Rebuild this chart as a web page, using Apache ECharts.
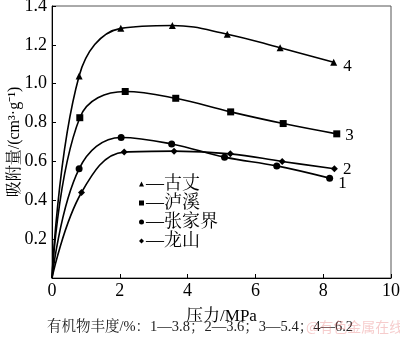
<!DOCTYPE html>
<html>
<head>
<meta charset="utf-8">
<script src="https://cdn.jsdelivr.net/npm/echarts@6/dist/echarts.min.js"></script>
<style>
  html, body { margin: 0; padding: 0; background: #fff; }
  #chart { width: 400px; height: 340px; }
</style>
</head>
<body>
<div id="chart"></div>
<script>
// Pressure (MPa) and adsorbed volume (cm3/g) for each shale sample
const guzhangP = [0, 0.80, 2.03, 3.55, 5.17, 6.73, 8.31];
const guzhangV = [0, 1.04, 1.285, 1.30, 1.255, 1.185, 1.11];
const luxiP = [0, 0.82, 2.16, 3.65, 5.27, 6.82, 8.40];
const luxiV = [0, 0.825, 0.96, 0.925, 0.855, 0.795, 0.742];
const zhangjiajieP = [0, 0.80, 2.04, 3.53, 5.09, 6.63, 8.19];
const zhangjiajieV = [0, 0.562, 0.723, 0.69, 0.622, 0.577, 0.514];
const longshanP = [0, 0.87, 2.13, 3.60, 5.26, 6.79, 8.33];
const longshanV = [0, 0.44, 0.648, 0.653, 0.639, 0.60, 0.562];

const seriesNames = ['古丈', '泸溪', '张家界', '龙山'];
const curveNumbers = ['4', '3', '1', '2'];
const xTicks = [0, 2, 4, 6, 8, 10];
const yTitle = '吸附量/(cm³·g⁻¹)';
const noteText = '有机物丰度/%：1—3.8；2—3.6；3—5.4；4—6.2';

const serif = '"Liberation Serif", "Times New Roman", "Noto Serif CJK SC", "Noto Sans CJK SC", serif';

function buildData(ps, vs, tag, offset) {
  return ps.map((p, i) => {
    const item = { value: [p, vs[i]] };
    if (i === 0) item.symbol = 'none';
    if (i === ps.length - 1) {
      item.label = {
        show: true, position: 'right', formatter: tag, offset: offset,
        fontFamily: serif, fontSize: 17, color: '#000'
      };
    }
    return item;
  });
}

const defs = [
  { name: seriesNames[0], p: guzhangP, v: guzhangV, symbol: 'triangle', size: 7, off: [1, 4] },
  { name: seriesNames[1], p: luxiP, v: luxiV, symbol: 'rect', size: 7, off: [0, 2] },
  { name: seriesNames[2], p: zhangjiajieP, v: zhangjiajieV, symbol: 'circle', size: 7, off: [0, 5] },
  { name: seriesNames[3], p: longshanP, v: longshanV, symbol: 'diamond', size: 7, off: [0, 1] }
];

const chart = echarts.init(document.getElementById('chart'), null, { renderer: 'canvas' });

chart.setOption({
  animation: false,
  backgroundColor: '#fff',
  grid: {
    left: 52, right: 9, top: 6, bottom: 62,
    containLabel: false, outerBoundsMode: 'none',
    show: true, borderColor: '#555', borderWidth: 1
  },
  legend: {
    orient: 'vertical',
    left: 134, top: 170,
    itemWidth: 5, itemHeight: 5, itemGap: 1,
    data: defs.map(d => ({ name: d.name, icon: d.symbol })),
    formatter: n => '—' + n,
    textStyle: { fontFamily: serif, fontSize: 18, color: '#000', padding: [0, 0, 0, -3] },
    inactiveColor: '#000'
  },
  xAxis: {
    type: 'value', min: 0, max: 10, interval: 2,
    name: '压力/MPa', nameLocation: 'middle', nameGap: 30,
    nameTextStyle: { fontFamily: serif, fontSize: 17, color: '#000' },
    axisLine: { lineStyle: { color: '#000', width: 1 } },
    axisTick: { inside: true, length: 4, lineStyle: { color: '#000' } },
    axisLabel: {
      fontFamily: serif, fontSize: 18, color: '#000', margin: 4,
      formatter: v => xTicks.includes(v) ? String(v) : ''
    },
    splitLine: { show: false }
  },
  yAxis: {
    type: 'value', min: 0, max: 1.4, interval: 0.2,
    axisLine: { show: true, lineStyle: { color: '#000', width: 1 } },
    axisTick: { inside: true, length: 4, lineStyle: { color: '#000' } },
    axisLabel: {
      fontFamily: serif, fontSize: 18, color: '#000', margin: 5,
      showMinLabel: false,
      formatter: v => v.toFixed(1)
    },
    splitLine: { show: false }
  },
  series: defs.map((d, i) => ({
    name: d.name,
    type: 'line',
    smooth: 0.4,
    symbol: d.symbol,
    symbolSize: d.size,
    itemStyle: { color: '#000' },
    lineStyle: { color: '#000', width: 1.6 },
    data: buildData(d.p, d.v, curveNumbers[i], d.off)
  })),
  graphic: [
    {
      // rotated y-axis title
      type: 'text', x: 15, y: 142, rotation: Math.PI / 2,
      style: {
        text: yTitle, font: '16px ' + serif, fill: '#000',
        align: 'center', verticalAlign: 'middle'
      }
    },
    {
      type: 'text', left: 47, top: 320,
      style: { text: noteText, font: '14.5px ' + serif, fill: '#222' }
    },
    {
      type: 'text', left: 306, top: 320,
      style: { text: '@有色金属在线', font: '14px "Noto Sans CJK SC", sans-serif', fill: 'rgba(230,110,110,0.35)' }
    }
  ]
});
</script>
</body>
</html>
